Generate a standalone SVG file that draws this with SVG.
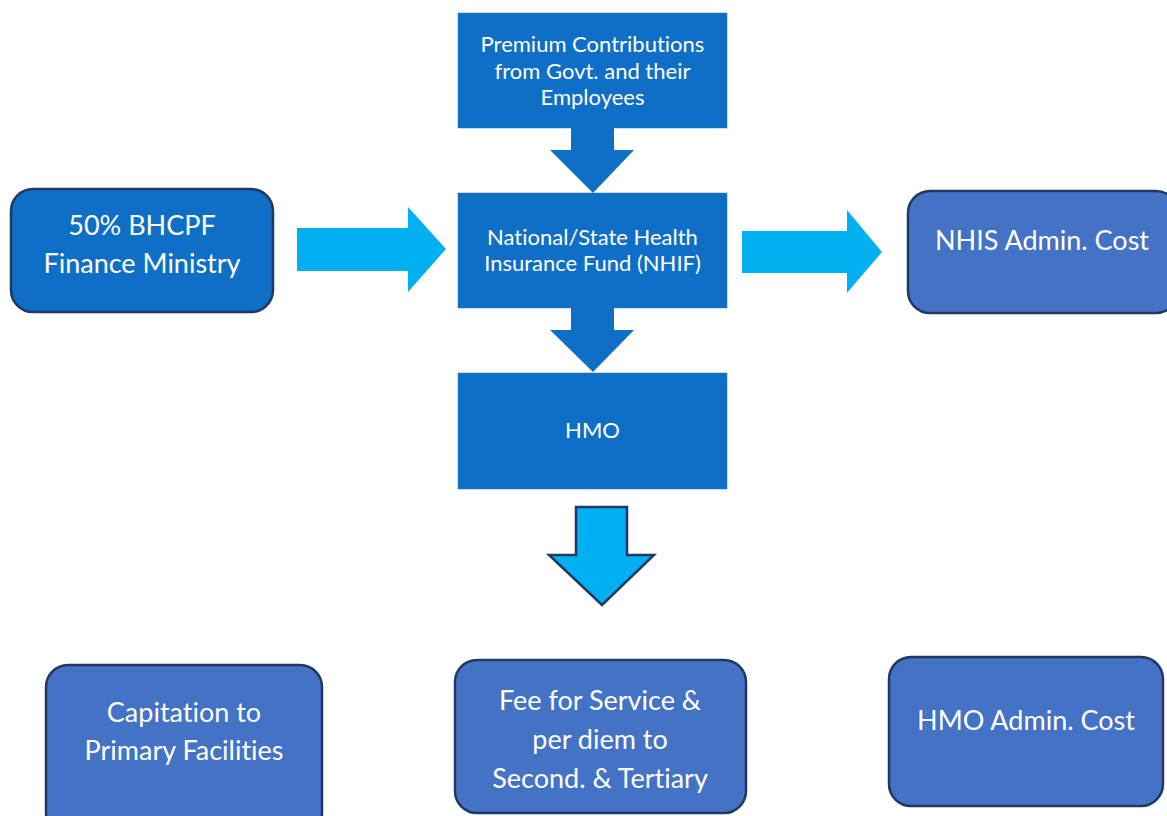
<svg xmlns="http://www.w3.org/2000/svg" width="1167" height="816" viewBox="0 0 1167 816">
<style>
.sq{fill:#0F6FC6;stroke:#2E75B6;stroke-width:0.5}
.rd{fill:#0F6FC6;stroke:#1F3864;stroke-width:2.5}
.rl{fill:#4472C4;stroke:#1F3864;stroke-width:2.5}
.ca{fill:#00B0F0}
.da{fill:#0F6FC6}
.oa{fill:#00B0F0;stroke:#1F3864;stroke-width:2.5;stroke-linejoin:miter}
text{font-family:Lato,"Open Sans","Liberation Sans",sans-serif;fill:#FFFFFF;text-anchor:middle;font-variant-ligatures:none}
.l{font-size:27px}
.s{font-size:22px}
</style>
<rect width="1167" height="816" fill="#FFFFFF"/>
<g id="connectors">
<polygon class="ca" points="297,228 408,228 408,207 446,249 408,292 408,271 297,271"/>
<polygon class="ca" points="742,231 847,231 847,210 882,252 847,293 847,273 742,273"/>
<polygon class="da" points="571,128 614,128 614,150 634,150 593,193 550,150 571,150"/>
<polygon class="da" points="571,308 614,308 614,330 634,330 593,372 550,330 571,330"/>
<polygon class="oa" points="576,507 627,507 627,555 654,555 602,605 549,555 576,555"/>
</g>
<g id="bhcpf">
<rect class="rd" x="11" y="189" width="262" height="123" rx="22"/>
<text class="l" x="142" y="235">50% BHCPF</text>
<text class="l" x="142" y="273">Finance Ministry</text>
</g>
<g id="premium">
<rect class="sq" x="458" y="13" width="269" height="115"/>
<text class="s" x="592.5" y="52">Premium Contributions</text>
<text class="s" x="592.5" y="78.5">from Govt. and their</text>
<text class="s" x="592.5" y="105">Employees</text>
</g>
<g id="nhif">
<rect class="sq" x="458" y="193" width="269" height="115"/>
<text class="s" x="592.5" y="245">National/State Health</text>
<text class="s" x="592.5" y="271">Insurance Fund (NHIF)</text>
</g>
<g id="hmo">
<rect class="sq" x="458" y="373" width="269" height="116"/>
<text class="s" x="592.5" y="438">HMO</text>
</g>
<g id="nhis-admin">
<rect class="rl" x="908" y="191" width="270" height="122" rx="22"/>
<text class="l" x="1042" y="250">NHIS Admin. Cost</text>
</g>
<g id="capitation">
<rect class="rl" x="46" y="665" width="276" height="170" rx="22"/>
<text class="l" x="184" y="722">Capitation to</text>
<text class="l" x="184" y="760">Primary Facilities</text>
</g>
<g id="fee">
<rect class="rl" x="455" y="660" width="291" height="153" rx="22"/>
<text class="l" x="600" y="710">Fee for Service &amp;</text>
<text class="l" x="600" y="749">per diem to</text>
<text class="l" x="600" y="788">Second. &amp; Tertiary</text>
</g>
<g id="hmo-admin">
<rect class="rl" x="889" y="657" width="274" height="149" rx="22"/>
<text class="l" x="1026" y="730">HMO Admin. Cost</text>
</g>
</svg>
